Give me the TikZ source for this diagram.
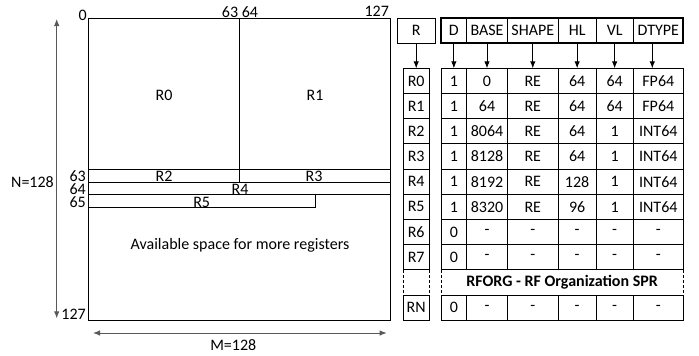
\documentclass[tikz,border=0pt]{standalone}
\usepackage{fontspec}
\setmainfont{Carlito}
\usetikzlibrary{positioning,arrows.meta}

\begin{document}
\begin{tikzpicture}[x=1pt,y=-1pt,font=\fontsize{16}{18}\selectfont,
    cell/.style={draw,line width=0.9pt,inner sep=0pt,outer sep=0pt,minimum height=25.2pt},
    hcell/.style={cell,minimum height=25pt},
    wR/.style={minimum width=25.7pt},
    wD/.style={minimum width=25.7pt},
    wB/.style={minimum width=40.6pt},
    wS/.style={minimum width=51pt},
    wH/.style={minimum width=37.7pt},
    wV/.style={minimum width=37.3pt},
    wT/.style={minimum width=50pt},
    regarrow/.style={-{Latex[length=7pt,width=5.5pt]},line width=0.9pt},
    sizearrow/.style={{Latex[length=7pt,width=5.5pt]}-{Latex[length=7pt,width=5.5pt]},line width=1pt,black!65},
    sidedash/.style={line width=0.9pt,dash pattern=on 3pt off 2pt},
    lbl/.style={inner sep=0pt}]
    \useasboundingbox (0,0) rectangle (699,356);

    % register file
    \draw[line width=0.9pt] (88.3,18.3) rectangle (390.7,320.3);
    \draw[line width=0.9pt] (239.5,18.3) -- (239.5,182);
    \draw[line width=0.9pt] (88.3,169.3) -- (390.7,169.3)
        (88.3,182) -- (390.7,182)
        (88.3,194.7) -- (390.7,194.7)
        (88.3,207.3) -| (315.3,194.7);

    \node at (164,95) (nR0) {R0};
    \node at (315,95) (nR1) {R1};
    \node[lbl] at (164,176.5) (nR2) {R2};
    \node[lbl] at (314,176.5) (nR3) {R3};
    \node[lbl] at (240,189) (nR4) {R4};
    \node[lbl] at (201.7,202.5) (nR5) {R5};
    \node at (240,245) (free) {Available space for more registers};

    \node[lbl] at (82.7,15) (col0) {0};
    \node[lbl] at (240,11.7) (col6364) {63 64};
    \node[lbl] at (376.7,11.7) (col127) {127};
    \node[lbl,anchor=east] at (86,175.7) (row63) {63};
    \node[lbl,anchor=east] at (86,189.5) (row64) {64};
    \node[lbl,anchor=east] at (86,202.3) (row65) {65};
    \node[lbl,anchor=east] at (86,314) (row127) {127};

    \coordinate (ntop) at (56.7,19);
    \coordinate (nbot) at (56.7,318.3);
    \draw[sizearrow] (ntop) -- (nbot);
    \node[lbl,anchor=east] at (54,182.3) (N) {N=128};
    \coordinate (mleft) at (93,333);
    \coordinate (mright) at (386.7,333);
    \draw[sizearrow] (mleft) -- (mright);
    \node[lbl] at (233.3,345) (M) {M=128};

    % header
    \node[hcell,minimum width=37.6pt] at (416.2,30.8) (hR) {R};
    \path node[hcell,wD] at (453.85,30.8) (hD) {D}
        node[hcell,wB,right=0pt of hD] (hBASE) {BASE}
        node[hcell,wS,right=0pt of hBASE] (hSHAPE) {SHAPE}
        node[hcell,wH,right=0pt of hSHAPE] (hHL) {HL}
        node[hcell,wV,right=0pt of hHL] (hVL) {VL}
        node[hcell,wT,right=0pt of hVL] (hDTYPE) {DTYPE};
    \draw[line width=1.8pt] (hD.north west) rectangle (hDTYPE.south east);

    % register names
    \path node[cell,wR] at (416.2,80.9) (reg0) {R0}
        node[cell,wR,below=0pt of reg0] (reg1) {R1}
        node[cell,wR,below=0pt of reg1] (reg2) {R2}
        node[cell,wR,below=0pt of reg2] (reg3) {R3}
        node[cell,wR,below=0pt of reg3] (reg4) {R4}
        node[cell,wR,below=0pt of reg4] (reg5) {R5}
        node[cell,wR,below=0pt of reg5] (reg6) {R6}
        node[cell,wR,below=0pt of reg6] (reg7) {R7}
        node[cell,wR,draw=none,below=0pt of reg7] (regX) {}
        node[cell,wR,below=0pt of regX] (regN) {RN};
    \draw[sidedash] (regX.north west) -- (regX.south west);
    \draw[sidedash] (regX.north east) -- (regX.south east);

    % RFORG rows
    \path node[cell,wD] at (453.85,80.9) (D0) {1}
        node[cell,wB,right=0pt of D0] (BASE0) {0}
        node[cell,wS,right=0pt of BASE0] (SHAPE0) {RE}
        node[cell,wH,right=0pt of SHAPE0] (HL0) {64}
        node[cell,wV,right=0pt of HL0] (VL0) {64}
        node[cell,wT,right=0pt of VL0] (DTYPE0) {FP64};
    \path node[cell,wD,below=0pt of D0] (D1) {1}
        node[cell,wB,right=0pt of D1] (BASE1) {64}
        node[cell,wS,right=0pt of BASE1] (SHAPE1) {RE}
        node[cell,wH,right=0pt of SHAPE1] (HL1) {64}
        node[cell,wV,right=0pt of HL1] (VL1) {64}
        node[cell,wT,right=0pt of VL1] (DTYPE1) {FP64};
    \path node[cell,wD,below=0pt of D1] (D2) {1}
        node[cell,wB,right=0pt of D2] (BASE2) {8064}
        node[cell,wS,right=0pt of BASE2] (SHAPE2) {RE}
        node[cell,wH,right=0pt of SHAPE2] (HL2) {64}
        node[cell,wV,right=0pt of HL2] (VL2) {1}
        node[cell,wT,right=0pt of VL2] (DTYPE2) {INT64};
    \path node[cell,wD,below=0pt of D2] (D3) {1}
        node[cell,wB,right=0pt of D3] (BASE3) {8128}
        node[cell,wS,right=0pt of BASE3] (SHAPE3) {RE}
        node[cell,wH,right=0pt of SHAPE3] (HL3) {64}
        node[cell,wV,right=0pt of HL3] (VL3) {1}
        node[cell,wT,right=0pt of VL3] (DTYPE3) {INT64};
    \path node[cell,wD,below=0pt of D3] (D4) {1}
        node[cell,wB,right=0pt of D4] (BASE4) {8192}
        node[cell,wS,right=0pt of BASE4] (SHAPE4) {RE}
        node[cell,wH,right=0pt of SHAPE4] (HL4) {128}
        node[cell,wV,right=0pt of HL4] (VL4) {1}
        node[cell,wT,right=0pt of VL4] (DTYPE4) {INT64};
    \path node[cell,wD,below=0pt of D4] (D5) {1}
        node[cell,wB,right=0pt of D5] (BASE5) {8320}
        node[cell,wS,right=0pt of BASE5] (SHAPE5) {RE}
        node[cell,wH,right=0pt of SHAPE5] (HL5) {96}
        node[cell,wV,right=0pt of HL5] (VL5) {1}
        node[cell,wT,right=0pt of VL5] (DTYPE5) {INT64};
    \path node[cell,wD,below=0pt of D5] (D6) {0}
        node[cell,wB,right=0pt of D6] (BASE6) {-}
        node[cell,wS,right=0pt of BASE6] (SHAPE6) {-}
        node[cell,wH,right=0pt of SHAPE6] (HL6) {-}
        node[cell,wV,right=0pt of HL6] (VL6) {-}
        node[cell,wT,right=0pt of VL6] (DTYPE6) {-};
    \path node[cell,wD,below=0pt of D6] (D7) {0}
        node[cell,wB,right=0pt of D7] (BASE7) {-}
        node[cell,wS,right=0pt of BASE7] (SHAPE7) {-}
        node[cell,wH,right=0pt of SHAPE7] (HL7) {-}
        node[cell,wV,right=0pt of HL7] (VL7) {-}
        node[cell,wT,right=0pt of VL7] (DTYPE7) {-};
    \node[cell,draw=none,minimum width=242.3pt,anchor=north west] at (D7.south west) (spr) {\textbf{RFORG - RF Organization SPR}};
    \draw[sidedash] (spr.north west) -- (spr.south west);
    \draw[sidedash] (spr.north east) -- (spr.south east);
    \path node[cell,wD,anchor=north west] at (spr.south west) (DN) {0}
        node[cell,wB,right=0pt of DN] (BASEN) {-}
        node[cell,wS,right=0pt of BASEN] (SHAPEN) {-}
        node[cell,wH,right=0pt of SHAPEN] (HLN) {-}
        node[cell,wV,right=0pt of HLN] (VLN) {-}
        node[cell,wT,right=0pt of VLN] (DTYPEN) {-};

    \draw[regarrow] (hR) -- (reg0);
    \draw[regarrow] (hD) -- (D0);
    \draw[regarrow] (hBASE) -- (BASE0);
    \draw[regarrow] (hSHAPE) -- (SHAPE0);
    \draw[regarrow] (hHL) -- (HL0);
    \draw[regarrow] (hVL) -- (VL0);
    \draw[regarrow] ([xshift=-6pt]hDTYPE.south) -- ([xshift=-6pt]DTYPE0.north);
\end{tikzpicture}
\end{document}
